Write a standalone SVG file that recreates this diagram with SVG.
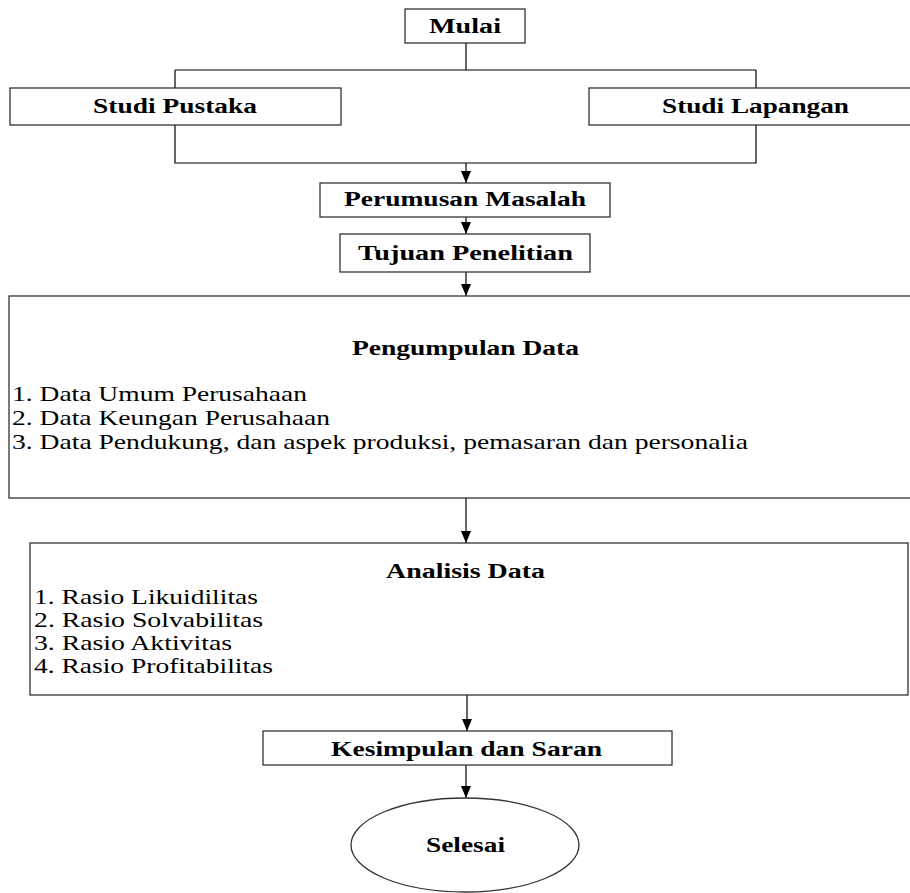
<svg xmlns="http://www.w3.org/2000/svg" width="910" height="893" viewBox="0 0 910 893">
<style>
.box{fill:#fff;stroke:#333;stroke-width:1.3}
.ln{fill:none;stroke:#000;stroke-width:1.2}
.b{font-family:"Liberation Serif","Times New Roman",serif;font-weight:bold;font-size:20px;fill:#000}
.r{font-family:"Liberation Serif","Times New Roman",serif;font-size:21px;fill:#000}
</style>
<defs>
<marker id="ah" viewBox="0 0 12 10" refX="12" refY="5" markerWidth="12" markerHeight="10" markerUnits="userSpaceOnUse" orient="auto">
<path d="M0,0 L12,5 L0,10 Z" fill="#000"/>
</marker>
</defs>
<g id="connectors">
<path class="ln" d="M466,43 V70 M175,70 H756 M175,70 V88 M756,70 V88"/>
<path class="ln" d="M175,125 V163 H756 V125"/>
<line class="ln" x1="466" y1="163" x2="466" y2="183" marker-end="url(#ah)"/>
<line class="ln" x1="466" y1="217" x2="466" y2="234" marker-end="url(#ah)"/>
<line class="ln" x1="466" y1="272" x2="466" y2="296" marker-end="url(#ah)"/>
<line class="ln" x1="466" y1="498" x2="466" y2="543" marker-end="url(#ah)"/>
<line class="ln" x1="467" y1="695" x2="467" y2="731" marker-end="url(#ah)"/>
<line class="ln" x1="466" y1="765" x2="466" y2="798" marker-end="url(#ah)"/>
</g>
<g id="mulai">
<rect class="box" x="405" y="9" width="120" height="34"/>
<text class="b" x="429" y="33" textLength="72" lengthAdjust="spacingAndGlyphs">Mulai</text>
</g>
<g id="studi-pustaka">
<rect class="box" x="10" y="88" width="331" height="37"/>
<text class="b" x="93" y="113" textLength="164" lengthAdjust="spacingAndGlyphs">Studi Pustaka</text>
</g>
<g id="studi-lapangan">
<rect class="box" x="589" y="88" width="330" height="37"/>
<text class="b" x="662" y="113" textLength="187" lengthAdjust="spacingAndGlyphs">Studi Lapangan</text>
</g>
<g id="perumusan">
<rect class="box" x="320" y="183" width="290" height="34"/>
<text class="b" x="344" y="206" textLength="242" lengthAdjust="spacingAndGlyphs">Perumusan Masalah</text>
</g>
<g id="tujuan">
<rect class="box" x="340" y="234" width="250" height="38"/>
<text class="b" x="358" y="260" textLength="215" lengthAdjust="spacingAndGlyphs">Tujuan Penelitian</text>
</g>
<g id="pengumpulan">
<rect class="box" x="9" y="296" width="910" height="202"/>
<text class="b" x="352" y="355" textLength="227" lengthAdjust="spacingAndGlyphs">Pengumpulan Data</text>
<text class="r" x="12" y="401" textLength="295" lengthAdjust="spacingAndGlyphs">1. Data Umum Perusahaan</text>
<text class="r" x="12" y="425" textLength="318" lengthAdjust="spacingAndGlyphs">2. Data Keungan Perusahaan</text>
<text class="r" x="12" y="449" textLength="736" lengthAdjust="spacingAndGlyphs">3. Data Pendukung, dan aspek produksi, pemasaran dan personalia</text>
</g>
<g id="analisis">
<rect class="box" x="30" y="543" width="878" height="152"/>
<text class="b" x="386" y="578" textLength="159" lengthAdjust="spacingAndGlyphs">Analisis Data</text>
<text class="r" x="34" y="604" textLength="224" lengthAdjust="spacingAndGlyphs">1. Rasio Likuidilitas</text>
<text class="r" x="34" y="627" textLength="229" lengthAdjust="spacingAndGlyphs">2. Rasio Solvabilitas</text>
<text class="r" x="34" y="650" textLength="198" lengthAdjust="spacingAndGlyphs">3. Rasio Aktivitas</text>
<text class="r" x="34" y="673" textLength="239" lengthAdjust="spacingAndGlyphs">4. Rasio Profitabilitas</text>
</g>
<g id="kesimpulan">
<rect class="box" x="263" y="731" width="409" height="34"/>
<text class="b" x="331" y="756" textLength="271" lengthAdjust="spacingAndGlyphs">Kesimpulan dan Saran</text>
</g>
<g id="selesai">
<ellipse class="box" cx="465" cy="845" rx="114" ry="47"/>
<text class="b" x="426" y="852" textLength="79" lengthAdjust="spacingAndGlyphs">Selesai</text>
</g>
</svg>
